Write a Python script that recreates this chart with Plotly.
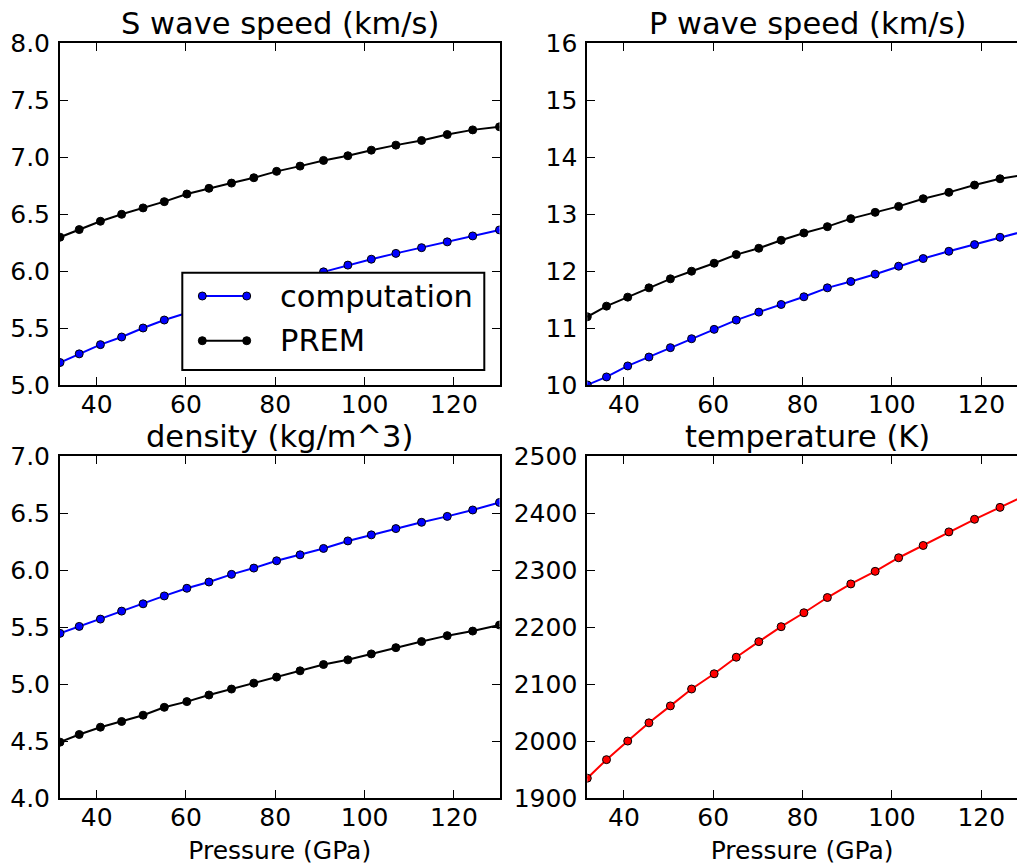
import plotly.graph_objects as go

# ---- data -------------------------------------------------------------
pressure = [31.8, 36.1, 40.85, 45.6, 50.4, 55.15, 60.2, 65.15, 70.2, 75.2,
            80.3, 85.55, 90.8, 96.25, 101.5, 107.0, 112.75, 118.5, 124.2, 130.2]

vs_computation = [5.199, 5.275, 5.356, 5.423, 5.502, 5.572, 5.636, 5.697, 5.757, 5.818,
                  5.879, 5.937, 5.995, 6.054, 6.106, 6.157, 6.207, 6.258, 6.310, 6.363]
vs_prem = [6.299, 6.366, 6.439, 6.500, 6.556, 6.611, 6.678, 6.728, 6.774, 6.821,
           6.877, 6.923, 6.973, 7.014, 7.063, 7.107, 7.148, 7.200, 7.241, 7.268]

vp_computation = [10.005, 10.145, 10.338, 10.495, 10.659, 10.816, 10.980, 11.143, 11.283, 11.417,
                  11.552, 11.709, 11.820, 11.949, 12.089, 12.223, 12.351, 12.468, 12.597, 12.715]
vp_prem = [11.201, 11.388, 11.546, 11.709, 11.867, 12.001, 12.141, 12.293, 12.404, 12.544,
           12.672, 12.783, 12.924, 13.034, 13.139, 13.274, 13.385, 13.513, 13.624, 13.700]

density_computation = [5.446, 5.507, 5.571, 5.641, 5.705, 5.774, 5.841, 5.896, 5.963, 6.018,
                       6.082, 6.134, 6.190, 6.256, 6.309, 6.364, 6.419, 6.471, 6.527, 6.593]
density_prem = [4.493, 4.560, 4.624, 4.674, 4.729, 4.798, 4.848, 4.906, 4.958, 5.010,
                5.063, 5.118, 5.173, 5.214, 5.266, 5.321, 5.374, 5.426, 5.466, 5.519]

temperature = [1935.4, 1967.9, 2000.5, 2032.4, 2062.1, 2091.7, 2118.4, 2147.4, 2174.7, 2200.9,
               2225.3, 2252.0, 2275.8, 2297.9, 2321.7, 2343.2, 2367.0, 2389.1, 2410.0, 2432.0]

titles = ["S wave speed (km/s)", "P wave speed (km/s)", "density (kg/m^3)", "temperature (K)"]
x_label = "Pressure (GPa)"
legend_labels = ["computation", "PREM"]

# ---- page geometry (pixels) ------------------------------------------
W, H = 1017, 865
FONT = "DejaVu Sans"
LEFT_X = (60.0, 499.5)
RIGHT_X0 = 587.3
PANEL_W = LEFT_X[1] - LEFT_X[0]
TOP_Y = (43.4, 385.2)
BOT_Y = (456.0, 798.4)

def px(x):
    return x / W

def py(y):
    return 1 - y / H

x_min, x_max = pressure[0], pressure[-1]
units_per_px = (x_max - x_min) / PANEL_W
x_max_right = x_min + (W - RIGHT_X0) * units_per_px

fig = go.Figure()

def add_series(xa, ya, y, color):
    fig.add_trace(go.Scatter(
        x=pressure, y=y, xaxis=xa, yaxis=ya, mode="lines+markers",
        line=dict(color=color, width=2),
        marker=dict(size=8, color=color, line=dict(color="black", width=1)),
        showlegend=False, hoverinfo="skip"))

add_series("x", "y", vs_computation, "#0000ff")
add_series("x", "y", vs_prem, "#000000")
add_series("x2", "y2", vp_computation, "#0000ff")
add_series("x2", "y2", vp_prem, "#000000")
add_series("x3", "y3", density_computation, "#0000ff")
add_series("x3", "y3", density_prem, "#000000")
add_series("x4", "y4", temperature, "#ff0000")

tick_font = dict(family=FONT, size=25, color="black")

def xaxis(domain, rng, anchor, label=None):
    d = dict(domain=domain, range=rng, anchor=anchor, tickvals=[40, 60, 80, 100, 120],
             ticks="inside", ticklen=8, tickwidth=1, tickcolor="black",
             showline=True, linewidth=2, linecolor="black", mirror="ticks",
             showgrid=False, zeroline=False, tickfont=tick_font, ticklabelstandoff=-4,
             automargin=False)
    if label:
        d["title"] = dict(text=label, font=tick_font, standoff=10)
    return d

def yaxis(domain, rng, anchor, step, fmt, mirror):
    return dict(domain=domain, range=rng, anchor=anchor, dtick=step, tick0=rng[0],
                tickformat=fmt, ticks="inside", ticklen=8, tickwidth=1, tickcolor="black",
                showline=True, linewidth=2, linecolor="black", mirror=mirror,
                showgrid=False, zeroline=False, tickfont=tick_font, ticklabelstandoff=3,
                automargin=False)

left_dom = [px(LEFT_X[0]), px(LEFT_X[1])]
right_dom = [px(RIGHT_X0), 1.0]
top_dom = [py(TOP_Y[1]), py(TOP_Y[0])]
bot_dom = [py(BOT_Y[1]), py(BOT_Y[0])]

fig.update_layout(
    template="none",
    width=W, height=H, autosize=False,
    margin=dict(l=0, r=0, t=0, b=0, pad=0),
    paper_bgcolor="white", plot_bgcolor="white",
    font=dict(family=FONT, color="black"),
    xaxis=xaxis(left_dom, [x_min, x_max], "y"),
    yaxis=yaxis(top_dom, [5, 8], "x", 0.5, ".1f", "ticks"),
    xaxis2=xaxis(right_dom, [x_min, x_max_right], "y2"),
    yaxis2=yaxis(top_dom, [10, 16], "x2", 1, "d", False),
    xaxis3=xaxis(left_dom, [x_min, x_max], "y3", x_label),
    yaxis3=yaxis(bot_dom, [4, 7], "x3", 0.5, ".1f", "ticks"),
    xaxis4=xaxis(right_dom, [x_min, x_max_right], "y4", x_label),
    yaxis4=yaxis(bot_dom, [1900, 2500], "x4", 100, "d", False),
)

# panel titles, centred over each panel's full width
title_font = dict(family=FONT, size=30.5, color="black")
centers = [LEFT_X[0] + PANEL_W / 2, RIGHT_X0 + PANEL_W / 2] * 2
tops = [TOP_Y[0], TOP_Y[0], BOT_Y[0], BOT_Y[0]]
for text, cx, ty in zip(titles, centers, tops):
    fig.add_annotation(text=text, x=px(cx), y=py(ty), xref="paper", yref="paper",
                       xanchor="center", yanchor="bottom", showarrow=False,
                       font=title_font, yshift=0)

# legend box in the S wave panel
box = (182.3, 272.7, 484.3, 370.0)
fig.add_shape(type="rect", xref="paper", yref="paper",
              x0=px(box[0]), y0=py(box[3]), x1=px(box[2]), y1=py(box[1]),
              line=dict(color="black", width=2), fillcolor="white", layer="above")
rows = [(296.0, "#0000ff"), (340.7, "#000000")]
key_x = (202.3, 246.7)
r = 4.0
for (ry, color), label in zip(rows, legend_labels):
    fig.add_shape(type="line", xref="paper", yref="paper",
                  x0=px(key_x[0]), y0=py(ry), x1=px(key_x[1]), y1=py(ry),
                  line=dict(color=color, width=2), layer="above")
    for kx in key_x:
        fig.add_shape(type="circle", xref="paper", yref="paper",
                      x0=px(kx - r), y0=py(ry + r), x1=px(kx + r), y1=py(ry - r),
                      line=dict(color="black", width=1), fillcolor=color, layer="above")
    fig.add_annotation(text=label, x=px(278.0), y=py(ry), xref="paper", yref="paper",
                       xanchor="left", yanchor="middle", showarrow=False,
                       font=dict(family=FONT, size=30.5, color="black"))

fig.write_html("out.html")
